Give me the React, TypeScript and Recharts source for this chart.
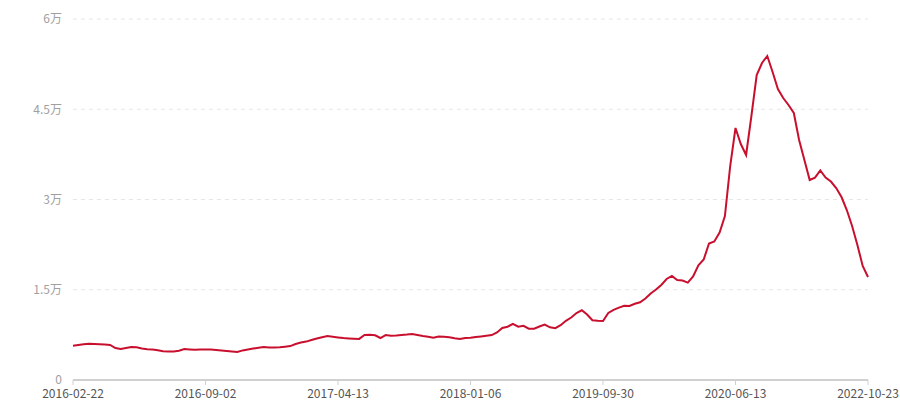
import React from "react";
import { LineChart, Line, XAxis, YAxis, CartesianGrid } from "recharts";

const tickLabels = [
  "2016-02-22",
  "2016-09-02",
  "2017-04-13",
  "2018-01-06",
  "2019-09-30",
  "2020-06-13",
  "2022-10-23",
];

const step = 25; // points between two labelled dates

const values = [
  5700, 5817, 5950, 6033, 5983, 5933, 5883, 5817, 5318, 5152,
  5318, 5485, 5451, 5252, 5119, 5052, 4936, 4787, 4737, 4753,
  4870, 5136, 5086, 5036, 5069, 5086, 5052, 4969, 4886, 4820,
  4737, 4654, 4920, 5069, 5219, 5368, 5468, 5385, 5418, 5451,
  5534, 5634, 5983, 6233, 6382, 6648, 6897, 7113, 7296, 7180,
  7080, 6964, 6914, 6864, 6831, 7479, 7529, 7429, 6980, 7462,
  7346, 7379, 7479, 7545, 7645, 7479, 7313, 7180, 7030, 7213,
  7180, 7113, 6931, 6814, 6964, 7030, 7147, 7246, 7346, 7462,
  7895, 8642, 8858, 9340, 8858, 9008, 8526, 8526, 8892, 9224,
  8759, 8609, 9108, 9839, 10388, 11135, 11584, 10886, 9939, 9856,
  9806, 11135, 11667, 12033, 12349, 12299, 12664, 12914, 13545, 14376,
  15041, 15789, 16786, 17300, 16620, 16537, 16188, 17202, 19079, 20027,
  22686, 23019, 24515, 27257, 35567, 41882, 39223, 37395, 43877, 50691,
  52685, 53849, 51190, 48364, 46868, 45705, 44375, 39888, 36564, 33240,
  33622, 34819, 33656, 32991, 31910, 30415, 28254, 25595, 22437, 18947,
  17119,
];

const yTicks = [0, 15000, 30000, 45000, 60000];

const data = values.map((v, i) => ({ i, value: v }));
const xTicks = tickLabels.map((_, k) => k * step);

const fmtY = (v: number) => (v === 0 ? "0" : `${v / 10000}万`);

const App: React.FC = () => {
  return (
    <div style={{ position: "absolute", left: 0, top: 0, background: "#fff" }}>
      <LineChart
        width={900}
        height={400}
        data={data}
        margin={{ top: 19, right: 32, bottom: 0, left: 0 }}
        style={{ fontFamily: "'Noto Sans CJK SC', 'Noto Sans', sans-serif" }}
      >
        <CartesianGrid
          vertical={false}
          stroke="#e6e6e6"
          strokeDasharray="4 4"
          horizontalValues={[15000, 30000, 45000, 60000]}
        />
        <XAxis
          dataKey="i"
          type="number"
          domain={[0, values.length - 1]}
          ticks={xTicks}
          interval={0}
          height={20}
          tickFormatter={(v: number) => tickLabels[Math.round(v / step)]}
          axisLine={{ stroke: "#d0d0d0", strokeWidth: 2 }}
          tickLine={{ stroke: "#d0d0d0" }}
          tickSize={5}
          tickMargin={4}
          tick={{ fontSize: 12, fill: "#555" }}
        />
        <YAxis
          width={73}
          domain={[0, 60000]}
          ticks={yTicks}
          interval={0}
          tickFormatter={fmtY}
          axisLine={false}
          tickLine={false}
          tickMargin={5}
          tick={{ fontSize: 12, fill: "#a0a0a0" }}
        />
        <Line
          type="linear"
          dataKey="value"
          stroke="#c8102e"
          strokeWidth={2}
          dot={false}
          activeDot={false}
          isAnimationActive={false}
        />
      </LineChart>
    </div>
  );
};

export default App;
